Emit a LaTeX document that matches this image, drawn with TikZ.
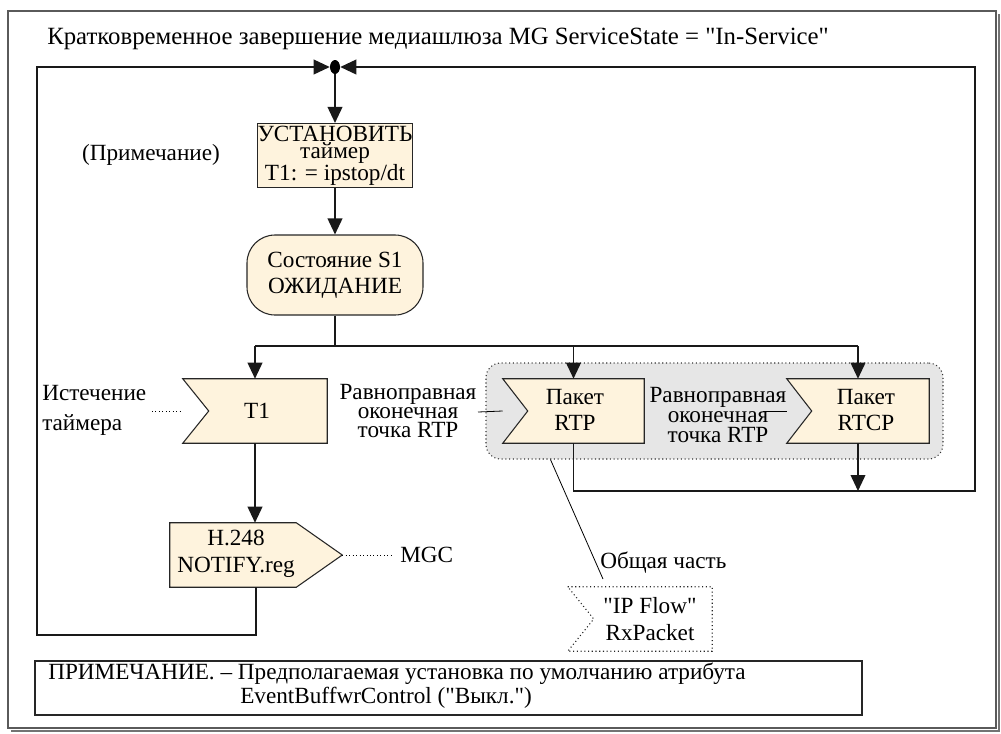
\documentclass[tikz,border=0pt]{standalone}
\usepackage{fontspec}
\setmainfont{Liberation Serif}
\newfontfamily\tnrfont{Liberation Serif}
\usetikzlibrary{arrows.meta,calc,shapes.geometric}
\definecolor{cream}{HTML}{FEF3DD}
\definecolor{regiongray}{HTML}{E6E6E6}
\definecolor{framegray}{HTML}{5A5A5A}
\tikzset{
  flow/.style={line width=1.3pt, draw=black!90},
  arr/.style={flow, -{Triangle[length=12pt,width=11pt]}},
  shapeline/.style={line width=0.8pt, draw=black!85, fill=cream},
  boxnode/.style={inner sep=0pt, minimum width=#1, minimum height=48pt},
  lbl/.style={inner sep=0pt, font=\tnrfont\fontsize{17.4}{20}\selectfont},
  leader/.style={line width=0.6pt, dotted},
  thinline/.style={line width=0.6pt}
}
\begin{document}
\begin{tikzpicture}[x=0.75pt,y=-0.75pt]
\useasboundingbox (0,0) rectangle (1001,733);
% outer frame
\draw[black!55, line width=1pt] (999,14) -- (999,731) -- (11,731);
\draw[framegray, line width=1pt] (8,11) rectangle (996,728);

% title
\node[lbl, anchor=west, font=\tnrfont\fontsize{18.6}{22}\selectfont] (title) at (47,39) {Кратковременное завершение медиашлюза MG ServiceState = "In-Service"};

% junction
\node[fill=black, ellipse, minimum width=7.5pt, minimum height=10.5pt, inner sep=0pt] (dot) at (335,67) {};

% set timer box
\node[shapeline, rectangle, minimum width=114pt, minimum height=48pt, inner sep=0pt, align=center,
      font=\tnrfont\fontsize{17.4}{12.75}\selectfont] (ust) at (335,155.5) {УСТАНОВИТЬ\\таймер\\T1: = ipstop/dt};
\node[lbl] (prim) at (151,155) {(Примечание)};

% state S1
\node[shapeline, rectangle, rounded corners=21pt, minimum width=132pt, minimum height=60pt, inner sep=0pt,
      align=center, font=\tnrfont\fontsize{17.4}{19.5}\selectfont] (s1) at (335,275) {Состояние S1\\ОЖИДАНИЕ};

% grey region
\node[draw=black!80, dotted, line width=0.8pt, fill=regiongray, rounded corners=11pt,
      minimum width=342.75pt, minimum height=72pt, inner sep=0pt] (region) at (714.5,411) {};

% T1 receive
\node[boxnode=108pt] (t1) at (255,411) {};
\filldraw[shapeline] (t1.north west) -- (t1.north east) -- (t1.south east) -- (t1.south west) -- ([xshift=19.5pt]t1.west) -- cycle;
\node[lbl] (t1lbl) at (257,411) {T1};

% RTP receive
\node[boxnode=105.75pt] (rtp) at (573.5,411) {};
\filldraw[shapeline] (rtp.north west) -- (rtp.north east) -- (rtp.south east) -- (rtp.south west) -- ([xshift=18.75pt]rtp.west) -- cycle;
\node[lbl, align=center] (rtplbl) at (575,410) {Пакет\\RTP};

% RTCP receive
\node[boxnode=106.5pt] (rtcp) at (858,411) {};
\filldraw[shapeline] (rtcp.north west) -- (rtcp.north east) -- (rtcp.south east) -- (rtcp.south west) -- ([xshift=18.75pt]rtcp.west) -- cycle;
\node[lbl, align=center] (rtcplbl) at (866,410) {Пакет\\RTCP};

% NOTIFY send
\node[boxnode=129pt] (notify) at (256,555) {};
\filldraw[shapeline] (notify.north west) -- ([xshift=-34.5pt]notify.north east) -- (notify.east) -- ([xshift=-34.5pt]notify.south east) -- (notify.south west) -- cycle;
\node[lbl, align=center] (notifylbl) at (236,554) {H.248\\NOTIFY.reg};

% IP Flow
\node[boxnode=108pt] (ipflow) at (640,619) {};
\filldraw[line width=0.8pt, dotted, draw=black!85, fill=white] (ipflow.north west) -- (ipflow.north east) -- (ipflow.south east) -- (ipflow.south west) -- ([xshift=19.5pt]ipflow.west) -- cycle;
\node[lbl, align=center] (iplbl) at (650,619) {"IP Flow"\\RxPacket};

% side labels
\node[lbl, align=left, anchor=west, font=\tnrfont\fontsize{17.4}{22.5}\selectfont] (istech) at (42,410) {Истечение\\таймера};
\draw[leader] (152,411) -- (t1.west);
\node[lbl, align=center, font=\tnrfont\fontsize{17.4}{14.6}\selectfont] (peer1) at (408,411) {Равноправная\\оконечная\\точка RTP};
\draw[thinline] (478,412) -- (rtp.west);
\node[lbl, align=center, font=\tnrfont\fontsize{17.4}{15}\selectfont] (peer2) at (718,415) {Равноправная\\оконечная\\точка RTP};
\draw[thinline] (763,411) -- (rtcp.west);
\node[lbl, anchor=west] (mgc) at (400,555) {MGC};
\draw[leader] (notify.east) -- ([xshift=-6pt]mgc.west);
\node[lbl, anchor=west] (obsh) at (600,563) {Общая часть};
\coordinate (obshend) at (603,579);
\draw[thinline] ($(region.south west)+(65,0)$) -- (obshend);

% connectors
\coordinate (bus) at (335,346);
\coordinate (lbot) at (37,635);
\coordinate (ltop) at (37,67);
\coordinate (rbot) at (975,491);
\coordinate (rtop) at (975,67);
\draw[arr] (dot.south) -- (ust.north);
\draw[arr] (ust.south) -- (s1.north);
\draw[flow] (s1.south) -- (bus);
\draw[flow] (t1.north |- bus) -- (rtcp.north |- bus);
\draw[arr] (t1.north |- bus) -- (t1.north);
\draw[arr] (rtp.north |- bus) -- (rtp.north);
\draw[arr] (rtcp.north |- bus) -- (rtcp.north);
\draw[arr] (t1.south) -- (t1.south |- notify.north);
\draw[arr] (notify.south) -- (notify.south |- lbot) -- (lbot) -- (ltop) -- (dot.west);
\draw[arr] (rtp.south) -- (rtp.south |- rbot) -- (rbot) -- (rtop) -- (dot.east);
\draw[arr] (rtcp.south) -- (rtcp.south |- rbot);

% note
\node[draw=black!85, line width=0.8pt, minimum width=620.25pt, minimum height=40.5pt, inner sep=0pt] (note) at (448.5,688) {};
\node[lbl, anchor=west] (note1) at (48,674) {ПРИМЕЧАНИЕ. – Предполагаемая установка по умолчанию атрибута};
\node[lbl, anchor=west] (note2) at (240,698) {EventBuffwrControl ("Выкл.")};
\end{tikzpicture}
\end{document}
